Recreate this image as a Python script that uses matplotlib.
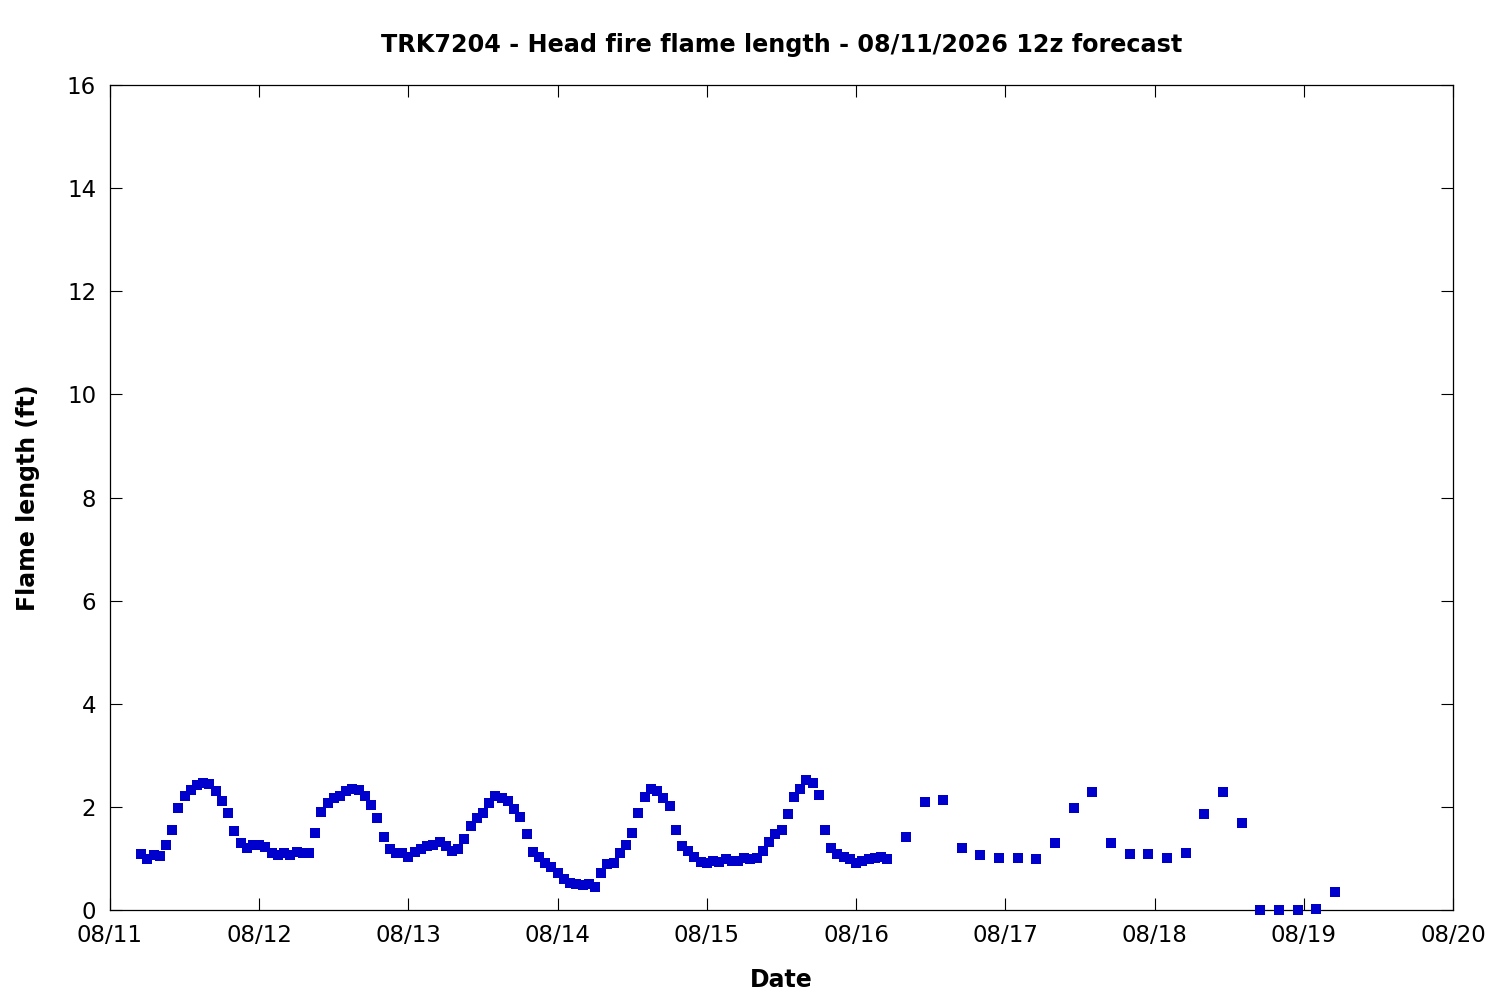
import matplotlib
matplotlib.use("Agg")
import matplotlib.pyplot as plt
import matplotlib.dates as mdates
from datetime import datetime, timedelta

# ---- data ----
start = datetime(2026, 8, 11, 0)
hourly_hours = list(range(5, 126))          # hourly forecast hours
hourly_values = [
    1.09, 0.99, 1.07, 1.04, 1.27, 1.56, 1.97, 2.21, 2.33, 2.42,
    2.47, 2.44, 2.30, 2.11, 1.88, 1.53, 1.29, 1.20, 1.26, 1.26,
    1.22, 1.11, 1.06, 1.10, 1.06, 1.12, 1.10, 1.10, 1.49, 1.91,
    2.07, 2.17, 2.22, 2.31, 2.35, 2.33, 2.21, 2.03, 1.78, 1.41,
    1.18, 1.11, 1.10, 1.03, 1.12, 1.18, 1.24, 1.26, 1.31, 1.24,
    1.15, 1.18, 1.37, 1.62, 1.78, 1.89, 2.07, 2.21, 2.17, 2.11,
    1.96, 1.80, 1.47, 1.12, 1.02, 0.92, 0.84, 0.71, 0.61, 0.53,
    0.50, 0.48, 0.50, 0.44, 0.71, 0.89, 0.92, 1.10, 1.27, 1.49,
    1.89, 2.19, 2.34, 2.31, 2.17, 2.01, 1.56, 1.24, 1.14, 1.03,
    0.94, 0.92, 0.95, 0.94, 0.98, 0.96, 0.96, 1.00, 0.98, 1.00,
    1.14, 1.31, 1.47, 1.56, 1.86, 2.19, 2.34, 2.53, 2.46, 2.24,
    1.56, 1.20, 1.09, 1.03, 0.98, 0.91, 0.96, 0.98, 1.00, 1.03,
    0.98,
]
three_hourly_hours = list(range(128, 198, 3))
three_hourly_values = [
    1.41, 2.09, 2.13, 1.20, 1.06, 1.00, 1.00, 0.98, 1.29, 1.97,
    2.28, 1.29, 1.08, 1.08, 1.00, 1.10, 1.86, 2.28, 1.68, 0.00,
    0.00, 0.00, 0.02, 0.34,
]
title = "TRK7204 - Head fire flame length - 08/11/2026 12z forecast"
xlabel = "Date"
ylabel = "Flame length (ft)"
yticks = [0, 2, 4, 6, 8, 10, 12, 14, 16]
xtick_days = [datetime(2026, 8, d) for d in range(11, 21)]

hours = hourly_hours + three_hourly_hours
values = hourly_values + three_hourly_values
times = [start + timedelta(hours=h) for h in hours]

# ---- figure ----
plt.rcParams['font.family'] = ['DejaVu Sans']
fig = plt.figure(figsize=(15, 10), dpi=100)
ax = fig.add_axes([110/1500, 90/1000, (1453-110)/1500, (910-85)/1000])

ax.plot(times, values, linestyle='none', marker='s', markersize=7.5,
        color='#0000cc', markeredgewidth=0, clip_on=False, zorder=3)

ax.set_xlim(xtick_days[0], xtick_days[-1])
ax.set_ylim(0, 16)
ax.set_yticks(yticks)
ax.set_xticks(xtick_days)
ax.xaxis.set_major_formatter(mdates.DateFormatter('%m/%d'))

ax.tick_params(direction='in', top=True, right=True, length=8.5, width=0.8,
               labelsize=16.5, pad=10)
for s in ax.spines.values():
    s.set_linewidth(0.9)

ax.set_title(title, fontsize=17.2, fontweight='bold', pad=24)
ax.set_xlabel(xlabel, fontsize=17, fontweight='bold', labelpad=15.5)
ax.set_ylabel(ylabel, fontsize=17, fontweight='bold', labelpad=19)

fig.savefig('out.png', dpi=100)
